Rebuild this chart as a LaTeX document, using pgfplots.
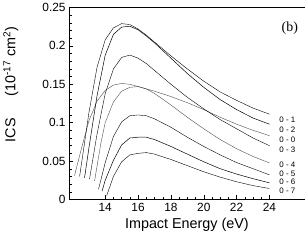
\documentclass[border=0pt]{standalone}
\usepackage{pgfplots}
\pgfplotsset{compat=1.18}
\usepackage{fontspec}
\setmainfont{Liberation Sans}
\newfontfamily\timesfont{Liberation Serif}
\begin{document}
\begin{tikzpicture}
\begin{axis}[
 scale only axis, width=237bp, height=193bp,
 xmin=11.8, xmax=26.15, ymin=0, ymax=0.25,
 xtick={14,16,18,20,22,24}, minor x tick num=3,
 ytick={0,0.05,0.1,0.15,0.2,0.25}, minor y tick num=4,
 xtick pos=bottom, ytick pos=left, tick align=inside,
 major tick length=4bp, minor tick length=2.5bp,
 scaled y ticks=false,
 yticklabel style={/pgf/number format/fixed, /pgf/number format/precision=2},
 /pgf/number format/assume math mode=true,
 tick label style={font=\fontsize{12}{14}\selectfont},
 label style={font=\fontsize{14.5}{16}\selectfont},
 xlabel={Impact Energy (eV)},
 ylabel={ICS\hspace{22bp}(10\textsuperscript{-17} cm\textsuperscript{2})},
 ylabel style={at={(axis description cs:-0.2,0.6)}},
 cycle list={{black!70,solid,line width=0.5pt,mark=none}},
 axis line style={line width=0.5pt},
 tick style={line width=0.4pt, black},
 clip=false,
]
% 0-0
\addplot coordinates {(12.13,0.031)(12.5,0.062)(13.0,0.102)(13.5,0.128)(14.0,0.142)(14.5,0.149)(15.0,0.151)(15.5,0.150)(16,0.147)(17,0.141)(18,0.134)(19,0.126)(20,0.117)(21,0.107)(22,0.098)(23,0.090)(24,0.083)};
% 0-1
\addplot coordinates {(12.44,0.030)(12.75,0.075)(13.0,0.112)(13.5,0.172)(14.0,0.208)(14.5,0.2235)(15.0,0.229)(15.5,0.2278)(16.0,0.222)(16.5,0.214)(17,0.205)(18,0.187)(19,0.170)(20,0.154)(21,0.140)(22,0.129)(23,0.119)(24,0.111)};
% 0-2
\addplot coordinates {(12.74,0.028)(13.0,0.066)(13.5,0.135)(14.0,0.188)(14.5,0.215)(15.0,0.2245)(15.5,0.2255)(16.0,0.221)(16.5,0.213)(17,0.204)(18,0.184)(19,0.164)(20,0.146)(21,0.130)(22,0.117)(23,0.106)(24,0.098)};
% 0-3
\addplot coordinates {(13.04,0.026)(13.5,0.085)(14.0,0.138)(14.5,0.170)(15.0,0.185)(15.5,0.188)(16.0,0.184)(16.5,0.177)(17,0.168)(18,0.150)(19,0.133)(20,0.118)(21,0.104)(22,0.092)(23,0.080)(24,0.070)};
% 0-4
\addplot coordinates {(13.35,0.024)(13.75,0.075)(14.0,0.100)(14.5,0.127)(15.0,0.141)(15.5,0.146)(16,0.147)(16.5,0.144)(17,0.138)(18,0.123)(19,0.107)(20,0.092)(21,0.078)(22,0.066)(23,0.056)(24,0.0475)};
% 0-5
\addplot coordinates {(13.59,0.013)(14.0,0.048)(14.5,0.082)(15.0,0.101)(15.5,0.109)(16,0.110)(16.5,0.109)(17,0.105)(18,0.094)(19,0.081)(20,0.069)(21,0.058)(22,0.048)(23,0.040)(24,0.032)};
% 0-6
\addplot coordinates {(13.81,0.011)(14.0,0.025)(14.5,0.051)(15.0,0.071)(15.5,0.080)(16,0.081)(16.5,0.081)(17,0.078)(18,0.069)(19,0.059)(20,0.049)(21,0.040)(22,0.033)(23,0.027)(24,0.0216)};
% 0-7
\addplot coordinates {(14.09,0.005)(14.5,0.030)(15.0,0.049)(15.5,0.058)(16,0.060)(16.5,0.061)(17,0.059)(18,0.052)(19,0.044)(20,0.036)(21,0.029)(22,0.023)(23,0.018)(24,0.0142)};
\begin{scope}[every node/.style={anchor=west, font=\fontsize{8}{9}\selectfont, inner sep=0pt}]
\node at (axis cs:24.6,0.1036) {0 - 1};
\node at (axis cs:24.6,0.0907) {0 - 2};
\node at (axis cs:24.6,0.0777) {0 - 0};
\node at (axis cs:24.6,0.0648) {0 - 3};
\node at (axis cs:24.6,0.0453) {0 - 4};
\node at (axis cs:24.6,0.0333) {0 - 5};
\node at (axis cs:24.6,0.0229) {0 - 6};
\node at (axis cs:24.6,0.0108) {0 - 7};
\end{scope}
\node[font=\timesfont\fontsize{14}{16}\selectfont] at (axis cs:25.24,0.223) {(b)};
\end{axis}
\end{tikzpicture}
\end{document}
